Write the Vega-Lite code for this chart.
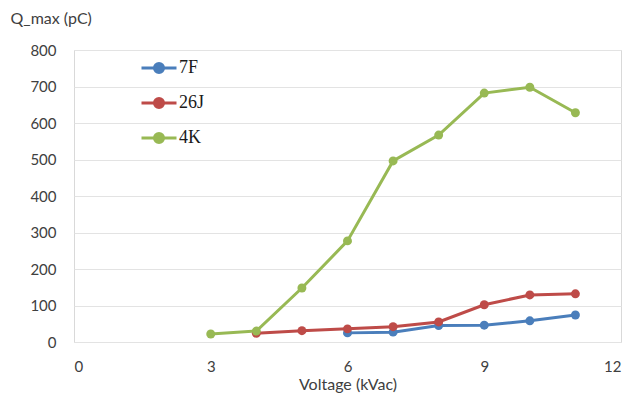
{
  "$schema": "https://vega.github.io/schema/vega-lite/v6.json",
  "width": 547,
  "height": 292,
  "autosize": "none",
  "padding": {"left": 74, "top": 50, "right": 13, "bottom": 54},
  "background": "white",
  "config": {
    "view": {"stroke": "#d9d9d9", "strokeWidth": 1},
    "axis": {"labelFont": "Lato", "titleFont": "Lato", "labelColor": "#404040", "titleColor": "#404040", "labelFontSize": 15, "titleFontSize": 16, "titleFontWeight": "normal"}
  },
  "data": {
    "values": [
      {"v": 6, "q": 25, "s": "7F"},
      {"v": 7, "q": 27, "s": "7F"},
      {"v": 8, "q": 45, "s": "7F"},
      {"v": 9, "q": 46, "s": "7F"},
      {"v": 10, "q": 58, "s": "7F"},
      {"v": 11, "q": 74, "s": "7F"},
      {"v": 4, "q": 24, "s": "26J"},
      {"v": 5, "q": 31, "s": "26J"},
      {"v": 6, "q": 36, "s": "26J"},
      {"v": 7, "q": 42, "s": "26J"},
      {"v": 8, "q": 55, "s": "26J"},
      {"v": 9, "q": 102, "s": "26J"},
      {"v": 10, "q": 129, "s": "26J"},
      {"v": 11, "q": 132, "s": "26J"},
      {"v": 3, "q": 22, "s": "4K"},
      {"v": 4, "q": 30, "s": "4K"},
      {"v": 5, "q": 148, "s": "4K"},
      {"v": 6, "q": 277, "s": "4K"},
      {"v": 7, "q": 496, "s": "4K"},
      {"v": 8, "q": 567, "s": "4K"},
      {"v": 9, "q": 682, "s": "4K"},
      {"v": 10, "q": 698, "s": "4K"},
      {"v": 11, "q": 628, "s": "4K"}
    ]
  },
  "encoding": {
    "x": {
      "field": "v", "type": "quantitative",
      "scale": {"domain": [0, 12], "nice": false},
      "axis": {"values": [0, 3, 6, 9, 12], "title": "Voltage (kVac)", "grid": false, "ticks": false, "domain": false, "labelPadding": 17, "titlePadding": 2}
    },
    "y": {
      "field": "q", "type": "quantitative",
      "scale": {"domain": [0, 800], "nice": false},
      "axis": {"values": [0, 100, 200, 300, 400, 500, 600, 700, 800], "title": "Q_max (pC)", "titleAngle": 0, "titleAlign": "left", "titleBaseline": "middle", "titleX": -64, "titleY": -32, "grid": true, "gridColor": "#e3e3e3", "ticks": false, "domain": false, "labelPadding": 18}
    },
    "color": {
      "field": "s", "type": "nominal",
      "scale": {"domain": ["7F", "26J", "4K"], "range": ["#4a7ebb", "#be4b48", "#98b954"]},
      "legend": {
        "title": null,
        "orient": "none",
        "legendX": 66,
        "legendY": -1,
        "labelFont": "Liberation Serif",
        "labelFontSize": 18,
        "labelColor": "#1a1a1a",
        "rowPadding": 5,
        "labelOffset": 1,
        "symbolType": "M -1 0 L 1 0 M -0.26 0 A 0.26 0.26 0 1 1 0.26 0 A 0.26 0.26 0 1 1 -0.26 0 Z",
        "symbolSize": 1225,
        "symbolStrokeWidth": 3,
        "encode": {
          "symbols": {"update": {"fill": {"scale": "color", "field": "value"}, "stroke": {"scale": "color", "field": "value"}, "opacity": {"value": 1}}}
        }
      }
    }
  },
  "layer": [
    {"mark": {"type": "line", "strokeWidth": 3}},
    {"mark": {"type": "point", "filled": true, "size": 80, "opacity": 1}}
  ]
}
